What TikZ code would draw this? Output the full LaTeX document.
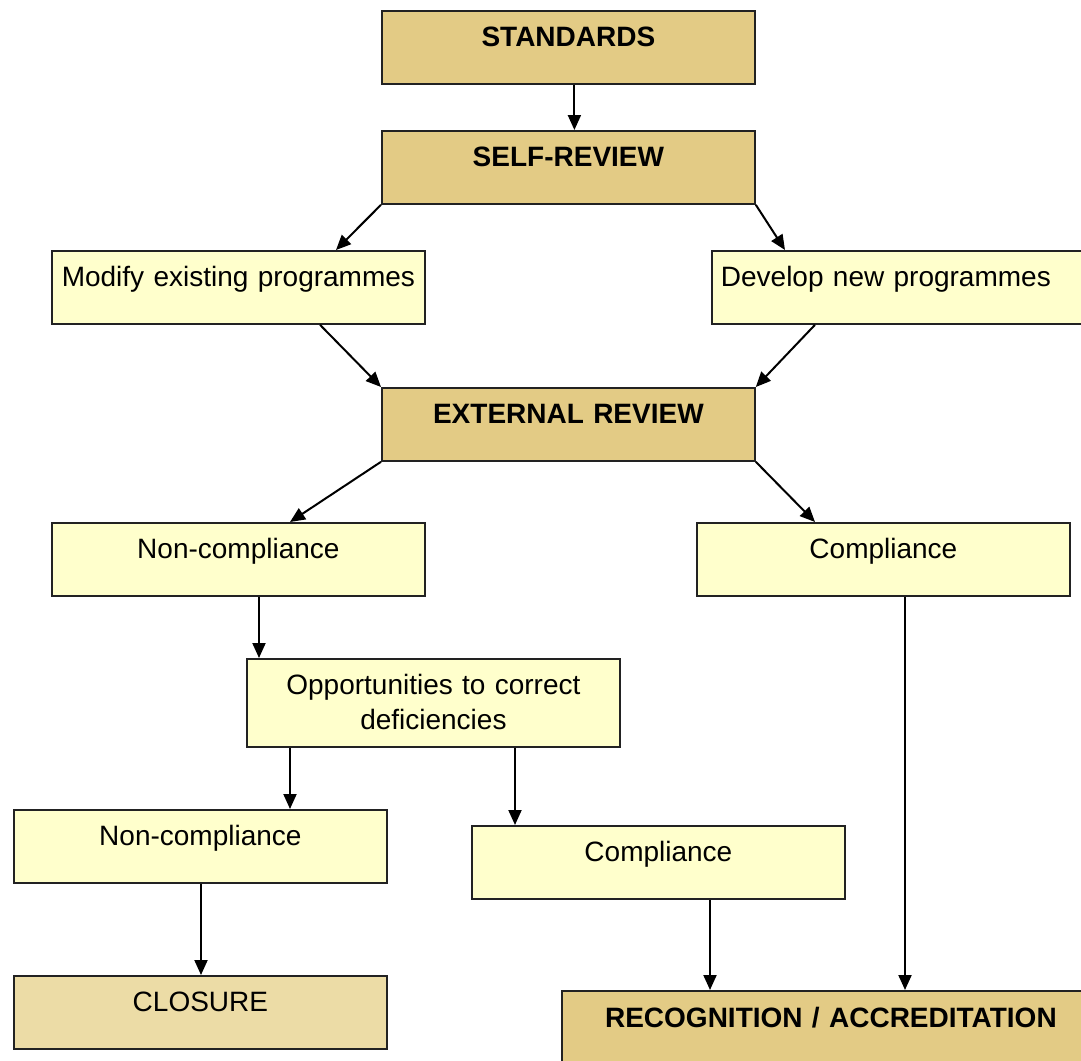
\documentclass[tikz,border=0pt]{standalone}
\usepackage{fontspec}
\setmainfont{Liberation Sans}
\usetikzlibrary{arrows.meta}
\definecolor{darktan}{HTML}{E3CB85}
\definecolor{lighttan}{HTML}{ECDCA6}
\definecolor{paleyellow}{HTML}{FFFFCC}
\definecolor{boxline}{HTML}{222222}
\tikzset{
  box/.style={draw=boxline, line width=1.8pt, rectangle, anchor=north west,
    minimum width=373pt, minimum height=73pt, inner xsep=0pt, inner ysep=0pt,
    text height=36pt, text depth=37pt, text width=373pt, align=center,
    font=\fontsize{28}{35}\selectfont},
  darkbox/.style={box, fill=darktan, font=\fontsize{28}{35}\selectfont\bfseries},
  lightbox/.style={box, fill=paleyellow},
  closebox/.style={box, fill=lighttan},
  conn/.style={line width=2pt, -{Triangle[length=15pt,width=13pt]}}
}
\begin{document}
\begin{tikzpicture}[x=1pt,y=-1pt]
\useasboundingbox (0,0) rectangle (1081,1060);
\clip (0,0) rectangle (1081,1060);
\fill[white] (0,0) rectangle (1081,1060);
\node[darkbox] (std) at (381,10) {STANDARDS};
\node[darkbox] (sr) at (381,130) {SELF-REVIEW};
\node[lightbox] (mod) at (51,250) {Modify existing programmes};
\node[lightbox, align=left, text width=363pt, inner xsep=0pt, minimum width=373pt] (dev) at (711,250) {\hspace*{4pt}Develop new programmes};
\node[darkbox] (ext) at (381,387) {EXTERNAL REVIEW};
\node[lightbox] (nc1) at (51,522) {Non-compliance};
\node[lightbox] (c1) at (696,522) {Compliance};
\node[lightbox, minimum height=88pt, text height=30pt, text depth=46pt] (opp) at (246,658) {Opportunities to correct\\deficiencies};
\node[lightbox] (nc2) at (13,809) {Non-compliance};
\node[lightbox] (c2) at (471,825) {Compliance};
\node[closebox] (clo) at (13,975) {CLOSURE};
\node[darkbox, minimum width=538pt, text width=538pt, minimum height=90pt, text height=37pt, text depth=53pt] (rec) at (561,990) {RECOGNITION / ACCREDITATION};
\draw[conn] ([xshift=6pt]std.south) -- ([xshift=6pt]sr.north);
\draw[conn] (sr.south west) -- ([xshift=285pt]mod.north west);
\draw[conn] (sr.south east) -- ([xshift=74pt]dev.north west);
\draw[conn] ([xshift=269pt]mod.south west) -- (ext.north west);
\draw[conn] ([xshift=104pt]dev.south west) -- (ext.north east);
\draw[conn] (ext.south west) -- ([xshift=239pt]nc1.north west);
\draw[conn] (ext.south east) -- ([xshift=119pt]c1.north west);
\draw[conn] ([xshift=208pt]nc1.south west) -- ([xshift=13pt]opp.north west);
\draw[conn] ([xshift=209pt]c1.south west) -- ([xshift=344pt]rec.north west);
\draw[conn] ([xshift=44pt]opp.south west) -- ([xshift=277pt]nc2.north west);
\draw[conn] ([xshift=269pt]opp.south west) -- ([xshift=44pt]c2.north west);
\draw[conn] ([xshift=188pt]nc2.south west) -- ([xshift=188pt]clo.north west);
\draw[conn] ([xshift=239pt]c2.south west) -- ([xshift=149pt]rec.north west);
\end{tikzpicture}
\end{document}
